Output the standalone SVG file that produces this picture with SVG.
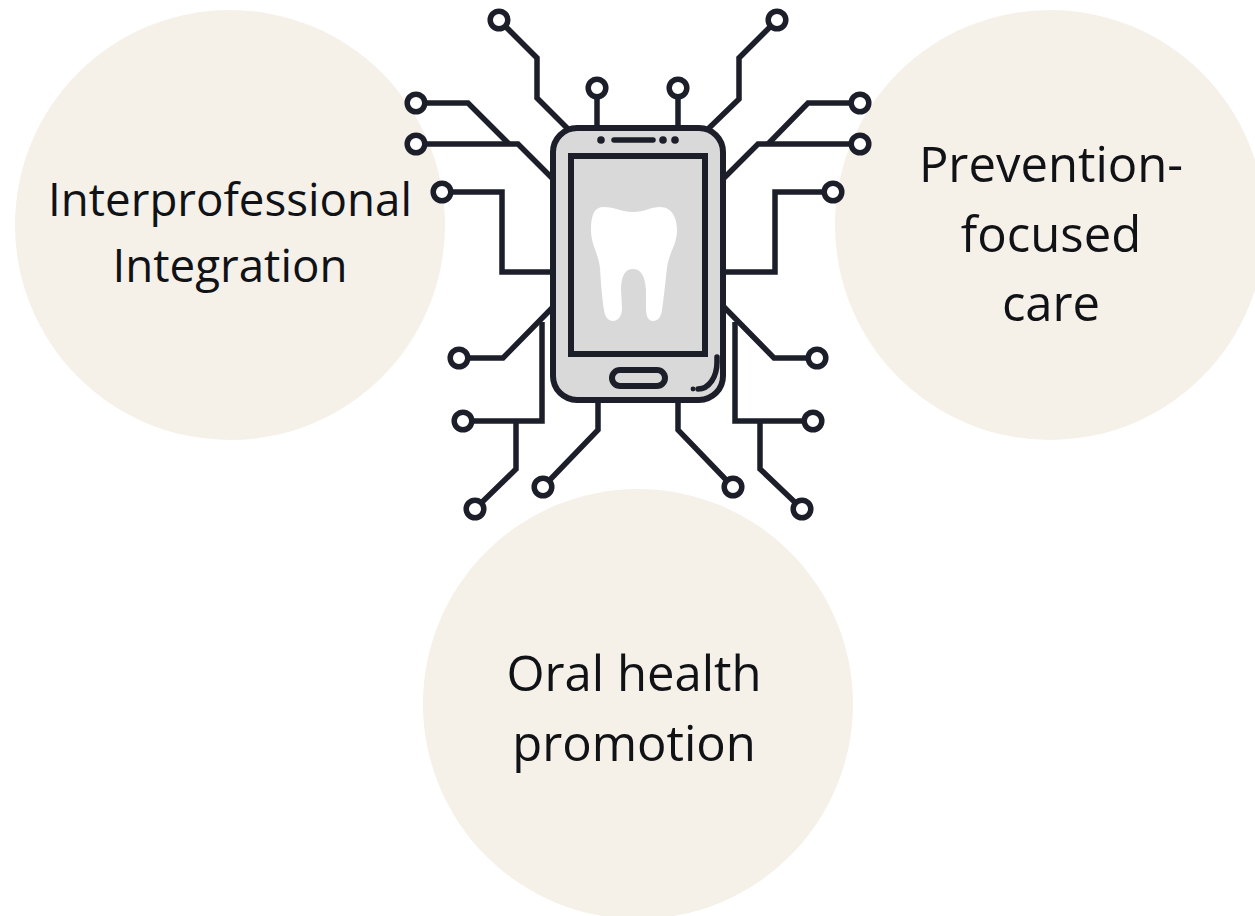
<svg xmlns="http://www.w3.org/2000/svg" width="1255" height="916" viewBox="0 0 1255 916">
<style>
.bg{fill:#f5f1e8}
.t{font-family:"Open Sans","Noto Sans",sans-serif;font-size:49px;fill:#111216;text-anchor:middle}
.l{font-size:45.7px}
.w{fill:none;stroke:#1c1f2a;stroke-width:5.5;stroke-linejoin:miter}
.p{fill:#fff;stroke:#1c1f2a;stroke-width:5.5}
.s{fill:none;stroke:#1c1f2a;stroke-width:5.5;stroke-linecap:round}
</style>
<rect width="1255" height="916" fill="#fff"/>
<g id="node-interprofessional">
<circle class="bg" cx="230" cy="225" r="215"/>
<text class="t l" x="230" y="216">Interprofessional</text>
<text class="t l" x="230" y="282">Integration</text>
</g>
<g id="node-prevention">
<circle class="bg" cx="1050" cy="225" r="215"/>
<text class="t" x="1051" y="182">Prevention-</text>
<text class="t" x="1051" y="252">focused</text>
<text class="t" x="1051" y="321">care</text>
</g>
<g id="node-oral">
<circle class="bg" cx="638" cy="704" r="215"/>
<text class="t" x="634" y="691">Oral health</text>
<text class="t" x="634" y="761">promotion</text>
</g>
<g id="connectors">
<path class="w" d="M499 20L537 58V98L568 129"/>
<path class="w" d="M416 103H468L509 144"/>
<path class="w" d="M416 144H518L552 178"/>
<path class="w" d="M442 192H502V272H552"/>
<path class="w" d="M597 88V128"/>
<path class="w" d="M678 88V128"/>
<path class="w" d="M777 20L739 58V99L708 129"/>
<path class="w" d="M860 103H808L768 144"/>
<path class="w" d="M860 144H758L724 178"/>
<path class="w" d="M833 192H775V272H724"/>
<path class="w" d="M459 358H503L552 308"/>
<path class="w" d="M463 421H542V322"/>
<path class="w" d="M516 421V469L475 509"/>
<path class="w" d="M543 487L598 430V400"/>
<path class="w" d="M817 358H774L724 307"/>
<path class="w" d="M813 421H735V322"/>
<path class="w" d="M760 421V469L802 509"/>
<path class="w" d="M733 487L678 430V400"/>
<g>
<circle class="p" cx="499" cy="20" r="8.8"/><circle class="p" cx="416" cy="103" r="8.8"/><circle class="p" cx="416" cy="144" r="8.8"/><circle class="p" cx="442" cy="192" r="8.8"/><circle class="p" cx="597" cy="88" r="8.8"/><circle class="p" cx="678" cy="88" r="8.8"/><circle class="p" cx="777" cy="20" r="8.8"/><circle class="p" cx="860" cy="103" r="8.8"/><circle class="p" cx="860" cy="144" r="8.8"/><circle class="p" cx="833" cy="192" r="8.8"/><circle class="p" cx="459" cy="358" r="8.8"/><circle class="p" cx="463" cy="421" r="8.8"/><circle class="p" cx="475" cy="509" r="8.8"/><circle class="p" cx="543" cy="487" r="8.8"/><circle class="p" cx="817" cy="358" r="8.8"/><circle class="p" cx="813" cy="421" r="8.8"/><circle class="p" cx="802" cy="509" r="8.8"/><circle class="p" cx="733" cy="487" r="8.8"/>
</g>
</g>
<g id="node-phone">
<rect x="553" y="128" width="170" height="272" rx="24" fill="#d9d9d9" stroke="#1c1f2a" stroke-width="6"/>
<rect x="571" y="156" width="134" height="198" fill="#d9d9d9" stroke="#1c1f2a" stroke-width="6"/>
<circle cx="601" cy="140" r="3.8" fill="#1c1f2a"/>
<path class="s" d="M614 140H653"/>
<circle cx="663" cy="140" r="3.8" fill="#1c1f2a"/>
<circle cx="675" cy="140" r="3.8" fill="#1c1f2a"/>
<rect x="612" y="370" width="53" height="16" rx="8" fill="#d9d9d9" stroke="#1c1f2a" stroke-width="6"/>
<path class="s" d="M717 357V362C717 377 709 389 698 389"/>
<circle cx="693" cy="389" r="2.4" fill="#1c1f2a"/>
<path d="M603 207C615 207 622 212 633 212C644 212 651 207 660 207C672 207 677 218 677 230C677 245 669 252 667 268C665 285 664 297 662 310C661 317 658 321 653 321C648 321 646 316 646 308L646 290C645 276 641 269 633 269C625 269 621 276 621 290L622 308C622 316 618 321 613 321C608 321 605 317 604 310C602 297 601 285 600 268C598 252 591 245 591 230C591 216 594 207 603 207Z" fill="#fff"/>
</g>
</svg>
